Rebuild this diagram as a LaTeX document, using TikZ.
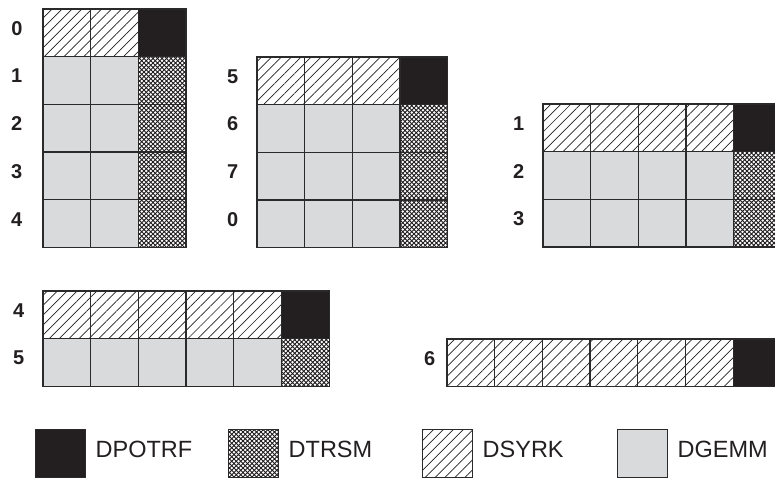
\documentclass[tikz,border=0pt]{standalone}
\usepackage{fontspec}
\setmainfont{Liberation Sans}
\usetikzlibrary{positioning,patterns.meta}
\definecolor{ink}{HTML}{231F20}
\definecolor{edge}{HTML}{2A2A2A}
\definecolor{gemmgray}{HTML}{D9DADC}

\tikzdeclarepattern{
 name=mesh,
 type=uncolored,
 bounding box={(-.5pt,-.5pt) and (5pt,5pt)},
 tile size={(4.5pt,4.5pt)},
 code={\draw[line width=0.85pt] (-1pt,-1pt) -- (5.5pt,5.5pt) (-1pt,5.5pt) -- (5.5pt,-1pt);}
}

\begin{document}
\begin{tikzpicture}[x=1pt,y=-1pt,
 cell/.style={draw=edge,line width=1.3pt,minimum width=47.7pt,minimum height=47.7pt,inner sep=0pt},
 potrf/.style={fill=ink},
 trsm/.style={pattern=mesh,pattern color=ink},
 syrk/.style={pattern={Lines[angle=45,distance=7pt,line width=0.7pt]},pattern color=ink},
 gemm/.style={fill=gemmgray},
 rowlab/.style={font=\fontsize{20}{20}\selectfont\bfseries,text=ink,inner sep=0pt,yshift=4.5pt},
 legbox/.style={draw=edge,line width=1pt,minimum width=50pt,minimum height=48pt,inner sep=0pt},
 legtext/.style={font=\fontsize{23.5}{23.5}\selectfont,text=ink,inner sep=0pt,yshift=4pt}]
\useasboundingbox (0,0) rectangle (775,477);
\clip (0,0) rectangle (775,477);
% blocks: name / left / top / columns / row labels / label gap
\foreach \name/\bx/\by/\nc/\labs/\gap in {a/43/9/3/{0,1,2,3,4}/20,b/257/57/4/{5,6,7,0}/18,
 c/543/104/5/{1,2,3}/18,d/43/291/6/{4,5}/18,e/447/339/7/{6}/11}{
 \foreach \lab [count=\r from 0] in \labs {
  \foreach \c in {1,...,\nc} {
   \edef\kind{\ifnum\r=0 \ifnum\c=\nc potrf\else syrk\fi\else\ifnum\c=\nc trsm\else gemm\fi\fi}
   \node[cell,\kind] (\name-\r-\c) at (\bx+\c*47.7-23.85,\by+\r*47.7+23.85) {};
  }
  \node[rowlab,left=\gap pt of \name-\r-1] (\name-lab-\r) {\lab};
 }
}
% legend
\foreach \x/\k/\t in {35/potrf/DPOTRF,228/trsm/DTRSM,422/syrk/DSYRK,617/gemm/DGEMM}{
 \node[legbox,\k] (leg-\t) at (\x+25,453) {};
 \node[legtext,right=10pt of leg-\t] (legtext-\t) {\t};
}
\end{tikzpicture}
\end{document}
